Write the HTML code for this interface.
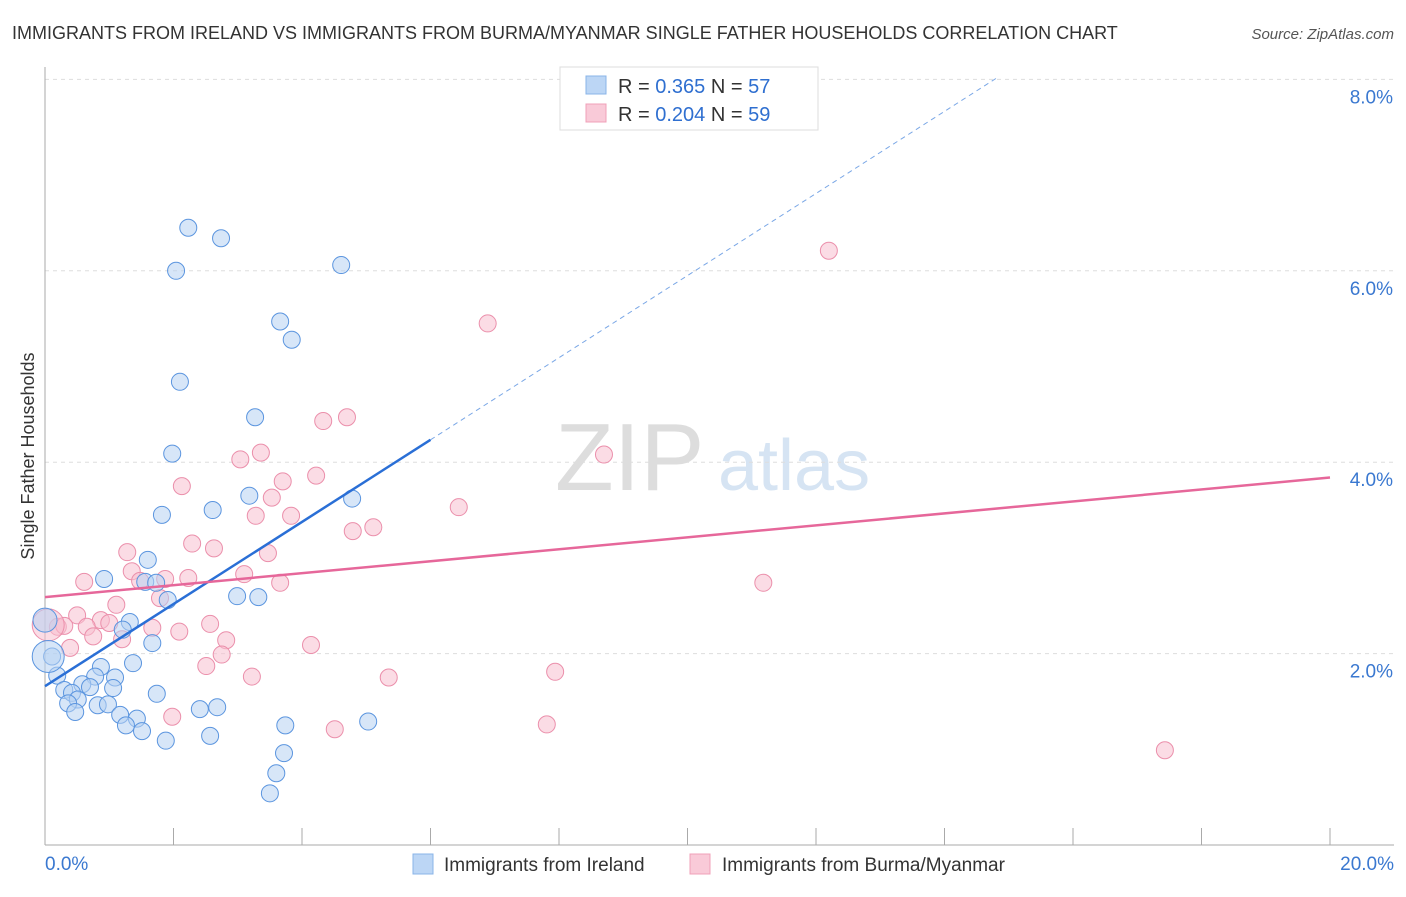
<!DOCTYPE html>
<html><head><meta charset="utf-8"><style>
body{margin:0;background:#fff;font-family:"Liberation Sans",sans-serif;}
svg text{font-family:"Liberation Sans",sans-serif;}
</style></head><body>
<svg id="chart" width="1406" height="892" xmlns="http://www.w3.org/2000/svg">
<text x="12" y="39" font-size="18" fill="#333">IMMIGRANTS FROM IRELAND VS IMMIGRANTS FROM BURMA/MYANMAR SINGLE FATHER HOUSEHOLDS CORRELATION CHART</text>
<text x="1394" y="39" font-size="15" fill="#555" font-style="italic" text-anchor="end">Source: ZipAtlas.com</text>
<text x="555" y="490" font-size="96" fill="#ddd" font-family="Liberation Serif">ZIP</text>
<text x="718" y="490" font-size="72" fill="#d6e4f3">atlas</text>
<text transform="translate(34,456) rotate(-90)" font-size="18" fill="#333" text-anchor="middle">Single Father Households</text>
<g id="grid"></g><g id="axes"></g><g id="pink"></g><g id="blue"></g><g id="lines"></g>
<g>
<rect x="560" y="67" width="258" height="63" fill="#fff" stroke="#ddd"/>
<rect x="586" y="76" width="20" height="18" fill="#bcd6f5" stroke="#8ab4e8"/>
<rect x="586" y="104" width="20" height="18" fill="#f9cad8" stroke="#f0a0b8"/>
<text x="618" y="93" font-size="20" fill="#333">R = <tspan fill="#2f6fd0">0.365</tspan>   N = <tspan fill="#2f6fd0">57</tspan></text>
<text x="618" y="121" font-size="20" fill="#333">R = <tspan fill="#2f6fd0">0.204</tspan>   N = <tspan fill="#2f6fd0">59</tspan></text>
</g>
<g>
<rect x="413" y="854" width="20" height="20" fill="#bcd6f5" stroke="#8ab4e8"/>
<text x="444" y="871" font-size="19" fill="#333">Immigrants from Ireland</text>
<rect x="690" y="854" width="20" height="20" fill="#f9cad8" stroke="#f0a0b8"/>
<text x="722" y="871" font-size="19" fill="#333">Immigrants from Burma/Myanmar</text>
</g>
</svg>
<script>
const blueX=[2.23,2.74,2.04,4.61,3.66,3.84,2.10,3.27,1.98,3.18,4.78,1.82,2.61,1.60,0.92,1.56,1.73,1.91,2.99,3.32,1.32,1.21,1.67,0.11,1.37,0.87,0.19,0.78,0.58,1.09,1.06,0.30,0.70,0.42,0.51,0.36,0.82,0.98,0.47,1.17,1.43,1.26,1.51,1.74,2.41,2.68,1.88,2.57,3.74,5.03,3.72,3.60,3.50,0.0,0.05];
const blueY=[6.45,6.34,6.00,6.06,5.47,5.28,4.84,4.47,4.09,3.65,3.62,3.45,3.50,2.98,2.78,2.75,2.74,2.56,2.60,2.59,2.33,2.25,2.11,1.97,1.90,1.86,1.77,1.76,1.68,1.75,1.64,1.62,1.65,1.59,1.52,1.48,1.46,1.47,1.39,1.36,1.32,1.25,1.19,1.58,1.42,1.44,1.09,1.14,1.25,1.29,0.96,0.75,0.54,2.35,1.97];
const pinkX=[12.20,6.89,4.70,4.33,3.36,3.04,8.70,2.13,4.22,3.70,3.53,6.44,3.28,3.83,5.11,4.79,2.29,1.28,2.63,3.47,1.35,3.10,0.61,1.48,1.87,2.23,3.66,11.18,1.11,1.79,0.50,0.87,1.00,2.57,0.20,0.30,0.65,1.67,2.09,1.20,0.75,2.82,0.39,4.14,2.75,2.51,7.94,3.22,5.35,1.98,4.51,7.81,17.43,0.05];
const pinkY=[6.21,5.45,4.47,4.43,4.10,4.03,4.08,3.75,3.86,3.80,3.63,3.53,3.44,3.44,3.32,3.28,3.15,3.06,3.10,3.05,2.86,2.83,2.75,2.76,2.78,2.79,2.74,2.74,2.51,2.58,2.40,2.35,2.32,2.31,2.28,2.29,2.28,2.27,2.23,2.15,2.18,2.14,2.06,2.09,1.99,1.87,1.81,1.76,1.75,1.34,1.21,1.26,0.99,2.30];
const yTicks=[2,4,6,8];
const blueLine=[1.66,0.429];
const pinkLine=[2.59,0.0625];
const sx=v=>45+v*64.25, sy=v=>845-v*95.7;
const NS="http://www.w3.org/2000/svg";
function mk(t,a,p){const e=document.createElementNS(NS,t);for(const k in a)e.setAttribute(k,a[k]);p.appendChild(e);return e;}
const grid=document.getElementById('grid'),axes=document.getElementById('axes');
yTicks.forEach(t=>{
const l=mk('line',{x1:45,x2:1394,y1:sy(t),y2:sy(t),stroke:'#ddd','stroke-dasharray':'4,4'},grid);


const tx=mk('text',{x:1393,y:sy(t)+24,'font-size':19,fill:'#3a78d0','text-anchor':'end'},axes);
tx.textContent=t.toFixed(1)+'%';


});
mk('line',{x1:45,x2:45,y1:67,y2:845,stroke:'#aaa'},axes);
mk('line',{x1:45,x2:1394,y1:845,y2:845,stroke:'#aaa'},axes);
for(let i=0;i<=10;i++){const tk=mk('line',{x1:sx(i*2),x2:sx(i*2),y1:828,y2:845,stroke:'#aaa'},axes);

}
const xl0=mk('text',{x:45,y:870,'font-size':19,fill:'#3a78d0'},axes);xl0.textContent='0.0%';


const xl1=mk('text',{x:1394,y:870,'font-size':19,fill:'#3a78d0','text-anchor':'end'},axes);xl1.textContent='20.0%';


function pts(xs,ys,g,fill,stroke,name){xs.forEach((x,i)=>{const big=(x<=0.05&&(ys[i]>1.9));const c=mk('circle',{cx:sx(x),cy:sy(ys[i]),r:big?(i===xs.length-1?16:12):8.5,fill:fill,'fill-opacity':0.55,stroke:stroke,'stroke-width':1},g);

});}
pts(pinkX,pinkY,document.getElementById('pink'),'#f7bfcf','#eb8fab','pink-point');
pts(blueX,blueY,document.getElementById('blue'),'#b6d1f2','#5b95df','blue-point');
const L=document.getElementById('lines');
const b1=mk('line',{x1:sx(0),y1:sy(blueLine[0]),x2:sx(6),y2:sy(blueLine[0]+6*blueLine[1]),stroke:'#2a6fd6','stroke-width':2.5},L);


const b2=mk('line',{x1:sx(6),y1:sy(blueLine[0]+6*blueLine[1]),x2:sx(14.85),y2:sy(blueLine[0]+14.85*blueLine[1]),stroke:'#7aa7e6','stroke-width':1,'stroke-dasharray':'5,4'},L);


const p1=mk('line',{x1:sx(0),y1:sy(pinkLine[0]),x2:sx(20),y2:sy(pinkLine[0]+20*pinkLine[1]),stroke:'#e6679a','stroke-width':2.5},L);


</script>
</body></html>
